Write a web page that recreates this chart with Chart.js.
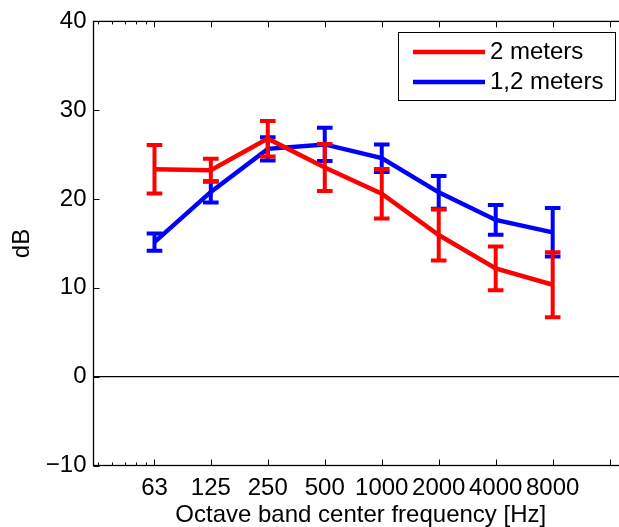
<!DOCTYPE html>
<html>
<head>
<meta charset="utf-8">
<script src="https://cdn.jsdelivr.net/npm/chart.js@4.4.1/dist/chart.umd.min.js"></script>
<style>
    html, body { margin: 0; padding: 0; background: #ffffff; overflow: hidden; }
    #wrap { width: 640px; height: 527px; }
</style>
</head>
<body>
<div id="wrap"><canvas id="chart" width="640" height="527"></canvas></div>
<script>
// octave band centres and the values measured at two distances
const frequencies = [63, 125, 250, 500, 1000, 2000, 4000, 8000];
const xTickValues = [63, 125, 250, 500, 1000, 2000, 4000, 8000, 16000];
const xTickLabels = ["63", "125", "250", "500", "1000", "2000", "4000", "8000", ""];
const xMinorTicks = [31.5, 37.8, 44.1, 50.4, 56.7];
const yTickValues = [-10, 0, 10, 20, 30, 40];

const mean2m = [23.35, 23.25, 26.8, 23.55, 20.6, 15.95, 12.2, 10.35];
const err2m = [2.73, 1.3, 2.0, 2.65, 2.78, 2.87, 2.47, 3.65];
const mean12m = [15.15, 20.8, 25.65, 26.15, 24.6, 20.75, 17.65, 16.25];
const err12m = [0.97, 1.2, 1.3, 1.87, 1.55, 1.83, 1.67, 2.73];

const FONT = "'Liberation Sans', Arial, Helvetica, sans-serif";
const FONT_SIZE = 24;

function points(values) {
    return frequencies.map((f, i) => ({ x: f, y: values[i] }));
}

// vertical error bars with caps, drawn right after their own line
const errorBars = {
    id: "errorBars",
    afterDatasetDraw(chart, args) {
        const ds = chart.data.datasets[args.index];
        if (!ds.errors) return;
        const ctx = chart.ctx;
        const xs = chart.scales.x;
        const ys = chart.scales.y;
        const capHalf = 7.8;
        ctx.save();
        ctx.strokeStyle = ds.borderColor;
        ctx.lineWidth = 4;
        ctx.lineCap = "butt";
        ds.data.forEach((p, i) => {
            const x = xs.getPixelForValue(p.x);
            const top = ys.getPixelForValue(p.y + ds.errors[i]);
            const bottom = ys.getPixelForValue(p.y - ds.errors[i]);
            ctx.beginPath();
            ctx.moveTo(x, top - 2);
            ctx.lineTo(x, bottom + 2);
            ctx.moveTo(x - capHalf, top);
            ctx.lineTo(x + capHalf, top);
            ctx.moveTo(x - capHalf, bottom);
            ctx.lineTo(x + capHalf, bottom);
            ctx.stroke();
        });
        ctx.restore();
    }
};

// box round the axes with inward ticks
const axesFrame = {
    id: "axesFrame",
    afterDraw(chart) {
        const { ctx, chartArea: a } = chart;
        const xs = chart.scales.x;
        const ys = chart.scales.y;
        ctx.save();
        ctx.strokeStyle = "#000000";
        ctx.lineWidth = 1.3;
        ctx.strokeRect(a.left, a.top, a.right - a.left, a.bottom - a.top);

        ctx.lineWidth = 1;
        ctx.beginPath();
        xTickValues.forEach(v => {
            const x = Math.round(xs.getPixelForValue(v)) + 0.5;
            ctx.moveTo(x, a.bottom); ctx.lineTo(x, a.bottom - 6);
            ctx.moveTo(x, a.top); ctx.lineTo(x, a.top + 6);
        });
        xMinorTicks.forEach(v => {
            const x = Math.round(xs.getPixelForValue(v)) + 0.5;
            ctx.moveTo(x, a.bottom); ctx.lineTo(x, a.bottom - 3);
            ctx.moveTo(x, a.top); ctx.lineTo(x, a.top + 3);
        });
        yTickValues.forEach(v => {
            const y = Math.round(ys.getPixelForValue(v)) + 0.5;
            ctx.moveTo(a.left, y); ctx.lineTo(a.left + 6, y);
            ctx.moveTo(a.right, y); ctx.lineTo(a.right - 6, y);
        });
        ctx.stroke();
        ctx.restore();
    }
};

// boxed legend in the upper right corner
const boxLegend = {
    id: "boxLegend",
    afterDraw(chart) {
        const ctx = chart.ctx;
        const items = chart.data.datasets.filter(d => d.label);
        const left = 398.5, top = 32.5, width = 217, height = 68;
        ctx.save();
        ctx.fillStyle = "#ffffff";
        ctx.fillRect(left, top, width, height);
        ctx.strokeStyle = "#000000";
        ctx.lineWidth = 1;
        ctx.strokeRect(left, top, width, height);
        ctx.font = FONT_SIZE + "px " + FONT;
        ctx.textBaseline = "middle";
        ctx.textAlign = "left";
        items.forEach((d, i) => {
            const y = 52 + i * 30;
            ctx.strokeStyle = d.borderColor;
            ctx.lineWidth = 4.5;
            ctx.beginPath();
            ctx.moveTo(413, y);
            ctx.lineTo(485, y);
            ctx.stroke();
            ctx.fillStyle = "#000000";
            ctx.fillText(d.label, 490, y + 0.5);
        });
        ctx.restore();
    }
};

const tickFont = { family: FONT, size: FONT_SIZE };
const titleFont = { family: FONT, size: FONT_SIZE, lineHeight: 1 };

const chart = new Chart(document.getElementById("chart"), {
    type: "line",
    data: {
        datasets: [
            {
                data: [{ x: 30, y: 0 }, { x: 20000, y: 0 }],
                borderColor: "#000000",
                borderWidth: 1.3,
                pointRadius: 0
            },
            {
                label: "2 meters",
                data: points(mean2m),
                errors: err2m,
                borderColor: "#ff0000",
                borderWidth: 4.5,
                pointRadius: 0,
                tension: 0
            },
            {
                label: "1,2 meters",
                data: points(mean12m),
                errors: err12m,
                borderColor: "#0000ff",
                borderWidth: 4.5,
                pointRadius: 0,
                tension: 0
            }
        ]
    },
    options: {
        responsive: false,
        animation: false,
        events: [],
        layout: { padding: { left: 0, top: 20, right: 12, bottom: 0 } },
        plugins: {
            legend: { display: false },
            tooltip: { enabled: false }
        },
        scales: {
            x: {
                type: "logarithmic",
                min: 30,
                max: 20000,
                afterBuildTicks: s => { s.ticks = xTickValues.map(v => ({ value: v })); },
                afterFit: s => { s.height = 61.5; },
                grid: { display: false, drawTicks: false },
                border: { display: false },
                ticks: {
                    autoSkip: false,
                    maxRotation: 0,
                    padding: 8.4,
                    color: "#000000",
                    font: tickFont,
                    callback: (v, i) => xTickLabels[i]
                },
                title: {
                    display: true,
                    text: "Octave band center frequency [Hz]",
                    color: "#000000",
                    font: titleFont,
                    padding: 0
                }
            },
            y: {
                min: -10,
                max: 40,
                afterBuildTicks: s => { s.ticks = yTickValues.map(v => ({ value: v })); },
                afterFit: s => { s.width = 93.5; },
                grid: { display: false, drawTicks: false },
                border: { display: false },
                ticks: {
                    padding: 7,
                    color: "#000000",
                    font: tickFont,
                    callback: v => (v < 0 ? "\u2212" + Math.abs(v) : String(v))
                },
                title: {
                    display: true,
                    text: "dB",
                    color: "#000000",
                    font: titleFont,
                    padding: { top: 10, bottom: 0 }
                }
            }
        }
    },
    plugins: [errorBars, axesFrame, boxLegend]
});
</script>
</body>
</html>
